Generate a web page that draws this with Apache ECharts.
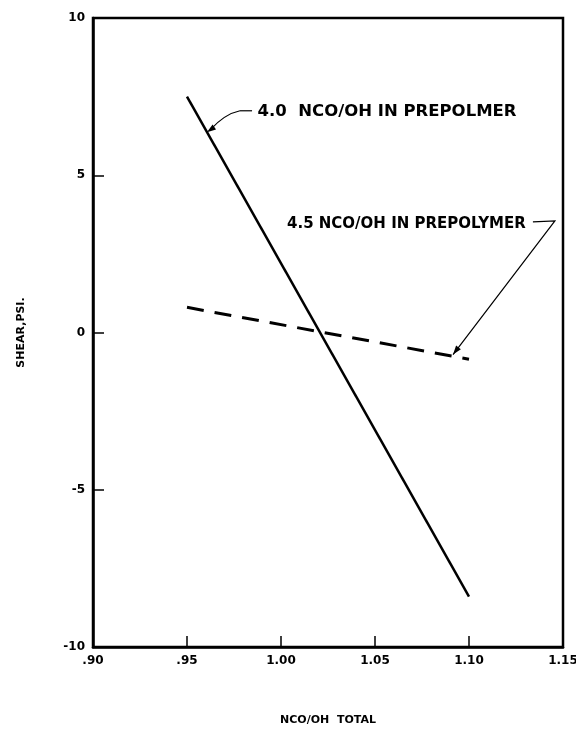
<!DOCTYPE html>
<html><head><meta charset="utf-8">
<script src="https://cdn.jsdelivr.net/npm/echarts@6/dist/echarts.min.js"></script>
<style>html,body{margin:0;padding:0;background:#fff}#c{width:576px;height:729px}</style>
</head><body><div id="c"></div>
<script>
// ---- data ----
const xLabels = ['.90', '.95', '1.00', '1.05', '1.10', '1.15'];
const yLabels = ['-10', '-5', '0', '5', '10'];
const xValues = [0.95, 1.10];
const prepol40 = [7.5, -8.4];
const prepol45 = [0.8, -0.85];
const seriesNames = ['4.0 NCO/OH IN PREPOLMER', '4.5 NCO/OH IN PREPOLYMER'];
const xName = 'NCO/OH  TOTAL';
const yName = 'SHEAR,PSI.';

const FONT = '"DejaVu Sans", "Liberation Sans", sans-serif';
const chart = echarts.init(document.getElementById('c'), null, {renderer: 'canvas'});

const option = {
  animation: false,
  backgroundColor: '#fff',
  grid: {left: 93, right: 13, top: 18, bottom: 82, show: true, borderColor: '#000', borderWidth: 2.5,
         backgroundColor: 'transparent', containLabel: false, outerBoundsMode: 'none'},
  xAxis: {
    type: 'value', min: 0.90, max: 1.15, interval: 0.05,
    name: xName, nameLocation: 'middle', nameGap: 68,
    nameTextStyle: {fontFamily: FONT, fontWeight: 'bold', fontSize: 11, color: '#000'},
    axisLine: {show: true, onZero: false, lineStyle: {color: '#000', width: 2.5}},
    axisTick: {show: true, inside: true, length: 11, lineStyle: {color: '#000', width: 1.5}},
    axisLabel: {fontFamily: FONT, fontSize: 12, fontWeight: 'bold', color: '#000', margin: 8,
      formatter: v => xLabels[Math.round((v - 0.90) / 0.05)]},
    splitLine: {show: false}
  },
  yAxis: {
    type: 'value', min: -10, max: 10, interval: 5,
    name: yName, nameLocation: 'middle', nameGap: 66, nameRotate: 90,
    nameTextStyle: {fontFamily: FONT, fontWeight: 'bold', fontSize: 11, color: '#000'},
    axisLine: {show: true, onZero: false, lineStyle: {color: '#000', width: 2.5}},
    axisTick: {show: true, inside: true, length: 11, lineStyle: {color: '#000', width: 1.5}},
    axisLabel: {fontFamily: FONT, fontSize: 12, fontWeight: 'bold', color: '#000', margin: 8,
      formatter: v => yLabels[Math.round((v + 10) / 5)]},
    splitLine: {show: false}
  },
  series: [
    {name: seriesNames[0], type: 'line', symbol: 'none',
     data: xValues.map((x, i) => [x, prepol40[i]]),
     lineStyle: {color: '#000', width: 2.5}},
    {name: seriesNames[1], type: 'line', symbol: 'none',
     data: xValues.map((x, i) => [x, prepol45[i]]),
     lineStyle: {color: '#000', width: 3, type: [17, 11]}}
  ]
};
chart.setOption(option);

// ---- annotations (anchored in data coordinates) ----
function px(x, y) { return chart.convertToPixel({gridIndex: 0}, [x, y]); }
function arrowHead(tip, from) {
  const dx = tip[0] - from[0], dy = tip[1] - from[1];
  const L = Math.hypot(dx, dy), ux = dx / L, uy = dy / L;
  const len = 9, hw = 3;
  const bx = tip[0] - ux * len, by = tip[1] - uy * len;
  return {type: 'polygon', shape: {points: [tip, [bx - uy * hw, by + ux * hw], [bx + uy * hw, by - ux * hw]]},
    style: {fill: '#000'}};
}
const t1 = px(0.9875, 7.0);
const l1a = px(0.9846, 7.05), l1b = px(0.9782, 7.05), l1c = px(0.9700, 6.95), l1tip = px(0.9606, 6.37);
const t2 = px(1.0032, 3.45);
const l2a = px(1.1340, 3.52), l2b = px(1.1457, 3.55), l2tip = px(1.0915, -0.70);

chart.setOption({
  graphic: [
    {type: 'text', x: t1[0], y: t1[1], scaleX: 1.1,
     style: {text: seriesNames[0].replace(' ', '  '), x: 0, y: 0, font: 'bold 15px ' + FONT, fill: '#000', align: 'left', verticalAlign: 'middle'}},
    {type: 'polyline', shape: {points: [l1a, l1b]}, style: {stroke: '#000', lineWidth: 1.2, fill: null}},
    {type: 'bezierCurve', shape: {x1: l1b[0], y1: l1b[1], cpx1: l1c[0], cpy1: l1c[1], x2: l1tip[0] + 3, y2: l1tip[1] - 2}, style: {stroke: '#000', lineWidth: 1.2, fill: null}},
    arrowHead(l1tip, [l1tip[0] + 10, l1tip[1] - 7]),
    {type: 'text', style: {text: seriesNames[1], x: t2[0], y: t2[1], font: 'bold 15px ' + FONT, fill: '#000', align: 'left', verticalAlign: 'middle'}},
    {type: 'polyline', shape: {points: [l2a, l2b, l2tip]}, style: {stroke: '#000', lineWidth: 1.2, fill: null}},
    arrowHead(l2tip, l2b)
  ]
});
</script>
</body></html>
